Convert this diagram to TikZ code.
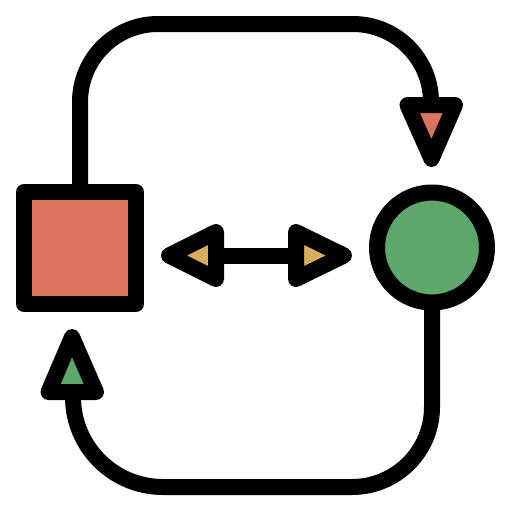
\documentclass[tikz,border=0pt]{standalone}
\definecolor{salmon}{HTML}{DD735E}
\definecolor{leaf}{HTML}{5DA76A}
\definecolor{ochre}{HTML}{D4AE5C}
\begin{document}
\begin{tikzpicture}[x=1pt,y=-1pt,line width=16pt,line join=round,
  shapebox/.style={draw=black,line width=16pt,inner sep=0pt,outer sep=0pt},
  head/.style={draw=black,line width=16pt,line join=round}]
\useasboundingbox (0,0) rectangle (512,512);
% shapes
\node[shapebox,fill=salmon,minimum size=112pt] (sq) at (80,248) {};
\node[shapebox,fill=leaf,circle,minimum size=110pt] (circ) at (432,247.5) {};
% named points
\coordinate (topbase) at (431,105);
\coordinate (botbase) at (73,392);
\coordinate (lbase) at (216,255.5);
\coordinate (rbase) at (296,255.5);
% top connector
\draw (sq.north) -- (80,102) arc[start angle=180,end angle=270,radius=78] -- (353,24)
  arc[start angle=270,end angle=360,radius=78] -- (topbase);
\draw[head,fill=salmon] (407.5,105) -- (455,105) -- (431.5,159) -- cycle;
% bottom connector
\draw (circ.south) -- (432,407) arc[start angle=0,end angle=90,radius=80] -- (163,487)
  arc[start angle=90,end angle=180,radius=90] -- (botbase);
\draw[head,fill=leaf] (48.5,392) -- (96,392) -- (72,337) -- cycle;
% middle double arrow
\draw (lbase) -- (rbase);
\draw[head,fill=ochre] (216,232) -- (216,279) -- (169,255.5) -- cycle;
\draw[head,fill=ochre] (296,232) -- (296,279) -- (344,255.5) -- cycle;
\end{tikzpicture}
\end{document}
